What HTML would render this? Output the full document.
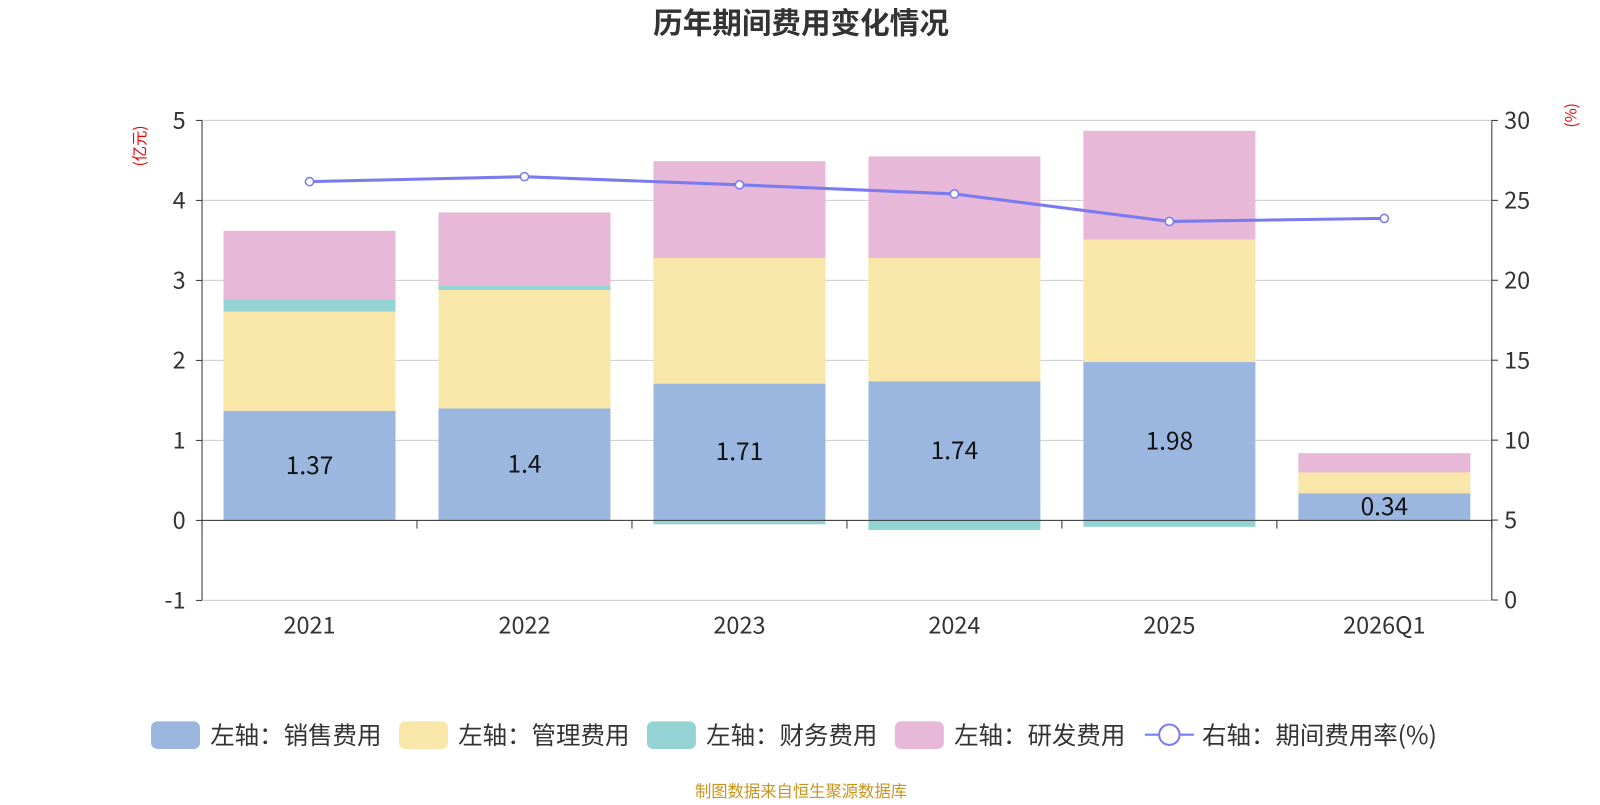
<!DOCTYPE html>
<html><head><meta charset="utf-8"><style>
body{margin:0;background:#fff;}
svg text{font-family:"Noto Sans CJK SC","Liberation Sans",sans-serif;}
</style></head><body>
<svg id="c" width="1600" height="800" xmlns="http://www.w3.org/2000/svg">
<g transform="scale(1.0204)">
<text x="785" y="33" text-anchor="middle" font-size="29" font-weight="bold" fill="#333">历年期间费用变化情况</text>
<text transform="translate(142,143) rotate(-90)" text-anchor="middle" font-size="15" fill="#e00">(亿元)</text>
<text transform="translate(1545,113) rotate(-90)" text-anchor="middle" font-size="15" fill="#e00">(%)</text>
<g id="grid"></g><g id="bars"></g><g id="axes"></g><g id="line"></g>
<g font-size="24" fill="#333">
<rect x="148" y="707" width="48" height="27" rx="6" fill="#9bb7e0"/><text x="206" y="729">左轴：销售费用</text>
<rect x="391" y="707" width="48" height="27" rx="6" fill="#f8e7a8"/><text x="449" y="729">左轴：管理费用</text>
<rect x="634" y="707" width="48" height="27" rx="6" fill="#93d3d3"/><text x="692" y="729">左轴：财务费用</text>
<rect x="877" y="707" width="48" height="27" rx="6" fill="#e7b8d8"/><text x="935" y="729">左轴：研发费用</text>
<line x1="1122" y1="720" x2="1170" y2="720" stroke="#7b7bf0" stroke-width="2"/><circle cx="1146" cy="720" r="10" fill="#fff" stroke="#7b7bf0" stroke-width="2"/><text x="1178" y="729">右轴：期间费用率(%)</text>
</g>
<text x="785" y="781" text-anchor="middle" font-size="16" fill="#c8951e">制图数据来自恒生聚源数据库</text>
</g>
</svg>
<script>
const categories=["2021","2022","2023","2024","2025","2026Q1"];
const sales=[1.37,1.40,1.71,1.74,1.98,0.34];
const admin=[1.24,1.48,1.57,1.54,1.53,0.26];
const finance=[0.15,0.06,-0.05,-0.12,-0.08,0.0];
const rd=[0.86,0.91,1.21,1.27,1.36,0.24];
const rate=[26.17,26.48,25.97,25.40,23.68,23.87];
const leftTicks=[-1,0,1,2,3,4,5];
const rightTicks=[0,5,10,15,20,25,30];
const NS="http://www.w3.org/2000/svg";
const X0=198,X1=1462,YT=118,YB=588;
const yL=v=>510-v*(510-YT)/5;
const yR=v=>YB-v*(YB-YT)/30;
const band=(X1-X0)/categories.length;
const xC=i=>X0+band*(i+0.5);
function mk(p,tag,a){const e=document.createElementNS(NS,tag);for(const k in a)e.setAttribute(k,a[k]);document.getElementById(p).appendChild(e);return e;}
leftTicks.forEach(t=>{
 const l=mk('grid','line',{x1:X0,x2:X1,y1:yL(t),y2:yL(t),stroke:'#ccc','stroke-width':1});
 
 
 const tx=mk('axes','text',{x:182,y:yL(t)+8,'text-anchor':'end','font-size':23,fill:'#333'});tx.textContent=t;
 
 
 mk('axes','line',{x1:X0-6,x2:X0,y1:yL(t),y2:yL(t),stroke:'#333'});
});
rightTicks.forEach(t=>{
 const tx=mk('axes','text',{x:1474,y:yR(t)+8,'font-size':23,fill:'#333'});tx.textContent=t;
 
 
 mk('axes','line',{x1:X1,x2:X1+6,y1:yR(t),y2:yR(t),stroke:'#333'});
});
mk('axes','line',{x1:X0,x2:X0,y1:YT,y2:YB,stroke:'#333'});
mk('axes','line',{x1:X1,x2:X1,y1:YT,y2:YB,stroke:'#333'});
mk('axes','line',{x1:X0,x2:X1,y1:yL(0),y2:yL(0),stroke:'#333'});
for(let i=0;i<=categories.length;i++)mk('axes','line',{x1:X0+band*i,x2:X0+band*i,y1:yL(0),y2:yL(0)+8,stroke:'#333'});
const bw=band*0.8;
const series=[[sales,'#9bb7e0','sales'],[admin,'#f8e7a8','admin'],[finance,'#93d3d3','finance'],[rd,'#e7b8d8','rd']];
categories.forEach((c,i)=>{
 let pos=0,neg=0;
 series.forEach(([arr,col,nm])=>{
  const v=arr[i];let a,b;
  if(v>=0){a=pos;b=pos+v;pos=b;}else{a=neg;b=neg+v;neg=b;}
  const r=mk('bars','rect',{x:xC(i)-bw/2,width:bw,y:Math.min(yL(a),yL(b)),height:Math.abs(yL(a)-yL(b)),fill:col});
  
  
 });
 const lb=mk('bars','text',{x:xC(i),y:yL(sales[i]/2)+8,'text-anchor':'middle','font-size':24,fill:'#111'});lb.textContent=sales[i];
 
 
 const cx=mk('axes','text',{x:xC(i),y:621,'text-anchor':'middle','font-size':23,fill:'#333'});cx.textContent=c;
 
 
});
const pl=mk('line','polyline',{points:rate.map((v,i)=>xC(i)+','+yR(v)).join(' '),fill:'none',stroke:'#7b7bf0','stroke-width':3});


rate.forEach((v,i)=>{const p=mk('line','circle',{cx:xC(i),cy:yR(v),r:4,fill:'#fff',stroke:'#7b7bf0','stroke-width':1.5});
 
 });
</script>
</body></html>
